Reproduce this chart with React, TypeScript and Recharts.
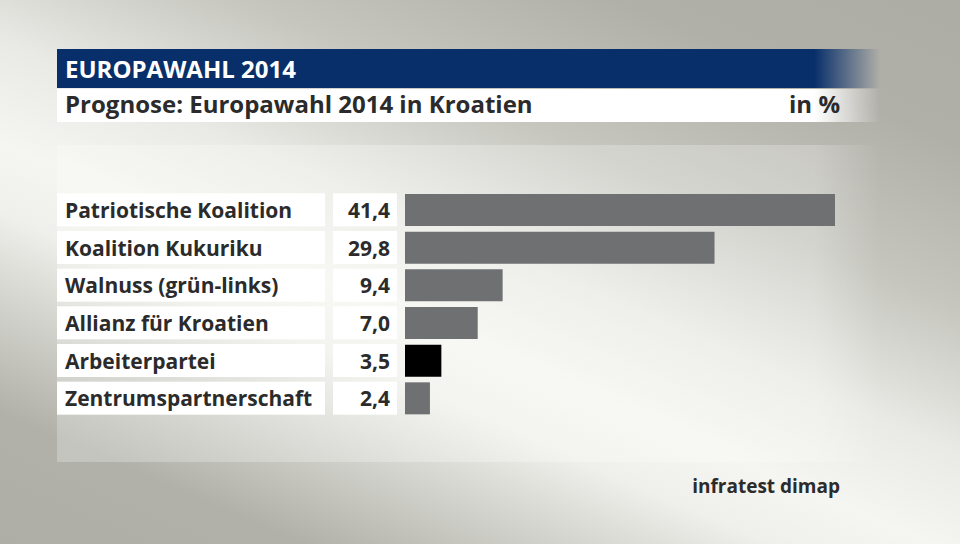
import { BarChart, Bar, XAxis, YAxis, Cell } from "recharts"

const parties = [
  "Patriotische Koalition",
  "Koalition Kukuriku",
  "Walnuss (grün-links)",
  "Allianz für Kroatien",
  "Arbeiterpartei",
  "Zentrumspartnerschaft",
]
const values = [41.4, 29.8, 9.4, 7.0, 3.5, 2.4]
const barColors = ["#6f7072", "#6f7072", "#6f7072", "#6f7072", "#000000", "#6f7072"]

const FONT = "'Open Sans', sans-serif"
const TEXT = "#2b2b2b"

const fmt = (v: number) => v.toFixed(1).replace(".", ",")

function Tick(props: any) {
  const { y, payload } = props
  const i = payload.index
  return (
    <g>
      <rect x={57} y={y - 16.5} width={268} height={33} fill="#fff" />
      <rect x={333} y={y - 16.5} width={64} height={33} fill="#fff" />
      <text x={65} y={y + 8} fontSize={21} fontWeight={700} fill={TEXT} fontFamily={FONT}>
        {payload.value}
      </text>
      <text x={390} y={y + 8} fontSize={21} fontWeight={700} fill={TEXT} fontFamily={FONT} textAnchor="end">
        {fmt(values[i])}
      </text>
    </g>
  )
}

export default function App() {
  const data = parties.map((name, i) => ({ name, value: values[i] }))

  return (
    <div style={{ position: "fixed", left: 0, top: 0, width: 960, height: 544 }}>
      <svg width={960} height={544} style={{ position: "absolute", left: 0, top: 0 }}>
        <defs>
          <linearGradient id="bg" gradientUnits="userSpaceOnUse" x1={-86} y1={510} x2={261} y2={-298}>
            <stop offset="0" stopColor="#aeaea6" />
            <stop offset="0.14" stopColor="#b1b1a9" />
            <stop offset="0.35" stopColor="#efefeb" />
            <stop offset="0.42" stopColor="#f5f5f1" />
            <stop offset="0.53" stopColor="#e9e9e5" />
            <stop offset="0.68" stopColor="#c6c6bf" />
            <stop offset="0.85" stopColor="#b0afa8" />
            <stop offset="1" stopColor="#adada5" />
          </linearGradient>
          <linearGradient id="head" x1="0" x2="1" y1="0" y2="0">
            <stop offset="0" stopColor="#082f6a" />
            <stop offset="0.92" stopColor="#082f6a" />
            <stop offset="1" stopColor="#082f6a" stopOpacity="0" />
          </linearGradient>
          <linearGradient id="sub" x1="0" x2="1" y1="0" y2="0">
            <stop offset="0" stopColor="#ffffff" />
            <stop offset="0.92" stopColor="#ffffff" />
            <stop offset="1" stopColor="#ffffff" stopOpacity="0" />
          </linearGradient>
          <linearGradient id="panel" x1="0" x2="1" y1="0" y2="0">
            <stop offset="0" stopColor="#ffffff" stopOpacity="0.25" />
            <stop offset="0.92" stopColor="#ffffff" stopOpacity="0.25" />
            <stop offset="1" stopColor="#ffffff" stopOpacity="0" />
          </linearGradient>
        </defs>
        <rect x={0} y={0} width={960} height={544} fill="url(#bg)" />
        <rect x={57} y={145} width={823} height={317} fill="url(#panel)" />
        <rect x={57} y={49} width={823} height={39} fill="url(#head)" />
        <rect x={57} y={89} width={823} height={33} fill="url(#sub)" />
        <text x={65} y={78} fontSize={24} fontWeight={700} fill="#fff" fontFamily={FONT}>
          EUROPAWAHL 2014
        </text>
        <text x={65} y={113} fontSize={24} fontWeight={700} fill={TEXT} fontFamily={FONT}>
          Prognose: Europawahl 2014 in Kroatien
        </text>
        <text x={840} y={113} fontSize={24} fontWeight={700} fill={TEXT} fontFamily={FONT} textAnchor="end">
          in %
        </text>
        <text x={840} y={493} fontSize={19} fontWeight={700} fill={TEXT} fontFamily={FONT} textAnchor="end">
          infratest dimap
        </text>
      </svg>
      <div style={{ position: "absolute", left: 0, top: 0 }}>
        <BarChart
          width={960}
          height={544}
          data={data}
          layout="vertical"
          margin={{ top: 191, right: 125, bottom: 127, left: 0 }}
          barSize={32}
        >
          <XAxis type="number" domain={[0, 41.4]} hide />
          <YAxis
            type="category"
            dataKey="name"
            width={405}
            axisLine={false}
            tickLine={false}
            tick={<Tick />}
            interval={0}
          />
          <Bar dataKey="value" isAnimationActive={false}>
            {data.map((_, i) => (
              <Cell key={i} fill={barColors[i]} />
            ))}
          </Bar>
        </BarChart>
      </div>
    </div>
  )
}
